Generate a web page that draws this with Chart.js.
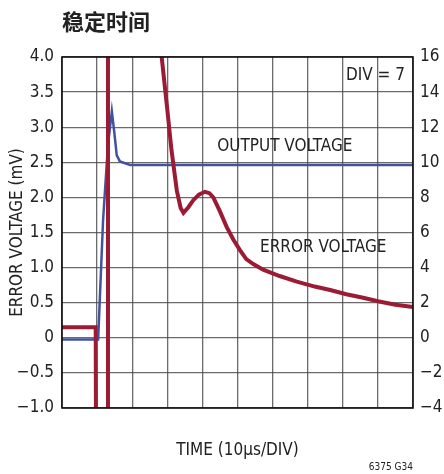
<!DOCTYPE html>
<html>
<head>
<meta charset="utf-8">
<script src="https://cdn.jsdelivr.net/npm/chart.js@4.4.1/dist/chart.umd.min.js"></script>
<style>
  html, body { margin: 0; padding: 0; background: #fff; }
  #wrap { width: 444px; height: 474px; position: relative; }
</style>
</head>
<body>
<div id="wrap"><canvas id="myChart"></canvas></div>
<script>
// Data (time in divisions, 10us/DIV)
const errorTime = [0, 0.5, 0.96, 0.97, 1.30, 1.31, 2.70, 2.78, 2.84, 3.0, 3.12, 3.27, 3.38, 3.46, 3.6, 3.74, 3.9, 4.07, 4.2, 4.31, 4.5, 4.69, 4.88, 5.07, 5.25, 5.45, 5.73, 6.2, 6.69, 7.2, 7.64, 8.1, 8.58, 9.0, 9.5, 10];
const errorMv = [0.15, 0.15, 0.15, -1.6, -1.6, 6, 6, 4.3, 4.0, 3.25, 2.67, 2.1, 1.85, 1.78, 1.86, 1.96, 2.04, 2.08, 2.06, 2.0, 1.8, 1.58, 1.4, 1.25, 1.12, 1.05, 0.97, 0.88, 0.80, 0.73, 0.68, 0.62, 0.57, 0.52, 0.47, 0.44];

const outputTime = [0, 1.03, 1.17, 1.31, 1.42, 1.49, 1.56, 1.65, 1.94, 10];
const outputV = [-0.1, -0.1, 6.7, 11.0, 12.9, 11.7, 10.4, 10.05, 9.85, 9.85];

const leftTickLabels = ["\u22121.0", "\u22120.5", "0", "0.5", "1.0", "1.5", "2.0", "2.5", "3.0", "3.5", "4.0"];
const rightTickLabels = ["\u22124", "\u22122", "0", "2", "4", "6", "8", "10", "12", "14", "16"];

const FONT = "'Liberation Sans Narrow', 'DejaVu Sans Condensed', 'Liberation Sans', sans-serif";
const RED = "#9b1b34";
const BLUE = "#42539e";

function toPoints(xs, ys) {
  let pts = [];
  for (let i = 0; i < xs.length; i++) {
    pts.push({ x: xs[i], y: ys[i] });
  }
  return pts;
}

// Frame, title and in-plot labels
const decorPlugin = {
  id: "decor",
  afterDraw(chart) {
    const ctx = chart.ctx;
    const a = chart.chartArea;
    const x = chart.scales.x;
    const y = chart.scales.y;
    ctx.save();
    ctx.strokeStyle = "#111";
    ctx.lineWidth = 1.6;
    ctx.strokeRect(a.left, a.top, a.right - a.left, a.bottom - a.top);

    ctx.fillStyle = "#222";
    ctx.font = "bold 22px 'Noto Sans CJK SC', sans-serif";
    ctx.textBaseline = "middle";
    ctx.textAlign = "left";
    ctx.fillText("稳定时间", 62, 22);

    ctx.font = "17px " + FONT;
    ctx.fillText("OUTPUT VOLTAGE", x.getPixelForValue(4.42), y.getPixelForValue(2.72));
    ctx.fillText("ERROR VOLTAGE", x.getPixelForValue(5.64), y.getPixelForValue(1.28));
    ctx.textAlign = "right";
    ctx.fillText("DIV = 7", x.getPixelForValue(9.77), y.getPixelForValue(3.74));

    ctx.font = "10px " + FONT;
    ctx.fillText("6375 G34", 413, 467);
    ctx.restore();
  },
};

new Chart("myChart", {
  type: "line",
  data: {
    datasets: [
      {
        label: "ERROR VOLTAGE",
        data: toPoints(errorTime, errorMv),
        yAxisID: "y",
        borderColor: RED,
        borderWidth: 4,
        pointRadius: 0,
        tension: 0,
      },
      {
        label: "OUTPUT VOLTAGE",
        data: toPoints(outputTime, outputV),
        yAxisID: "y1",
        borderColor: BLUE,
        borderWidth: 2.5,
        pointRadius: 0,
        tension: 0,
      },
    ],
  },
  options: {
    responsive: true,
    maintainAspectRatio: false,
    animation: false,
    layout: {
      padding: { top: 57, left: 0, right: 0, bottom: 0 },
    },
    scales: {
      x: {
        type: "linear",
        min: 0,
        max: 10,
        ticks: { display: false, stepSize: 1 },
        grid: { color: "rgba(70,70,70,0.8)", lineWidth: 1.3, drawTicks: false },
        border: { display: false },
        title: {
          display: true,
          text: "TIME (10\u03bcs/DIV)",
          color: "#222",
          font: { family: FONT, size: 17 },
          padding: { top: 0, bottom: 13 },
        },
        afterFit: (scale) => {
          scale.height = 66;
        },
      },
      y: {
        position: "left",
        min: -1,
        max: 4,
        ticks: {
          stepSize: 0.5,
          padding: 8,
          color: "#222",
          font: { family: FONT, size: 17 },
          callback: (value, index) => leftTickLabels[index],
        },
        grid: { color: "rgba(70,70,70,0.8)", lineWidth: 1.3, drawTicks: false },
        border: { display: false },
        title: {
          display: true,
          text: "ERROR VOLTAGE (mV)",
          color: "#222",
          font: { family: FONT, size: 17 },
          padding: { top: 7, bottom: 0 },
        },
        afterFit: (scale) => {
          scale.width = 62;
        },
      },
      y1: {
        position: "right",
        min: -4,
        max: 16,
        ticks: {
          stepSize: 2,
          padding: 7,
          color: "#222",
          font: { family: FONT, size: 17 },
          callback: (value, index) => rightTickLabels[index],
        },
        grid: { drawOnChartArea: false, drawTicks: false },
        border: { display: false },
        afterFit: (scale) => {
          scale.width = 31;
        },
      },
    },
    plugins: {
      legend: { display: false },
      tooltip: { enabled: false },
    },
  },
  plugins: [decorPlugin],
});
</script>
</body>
</html>
